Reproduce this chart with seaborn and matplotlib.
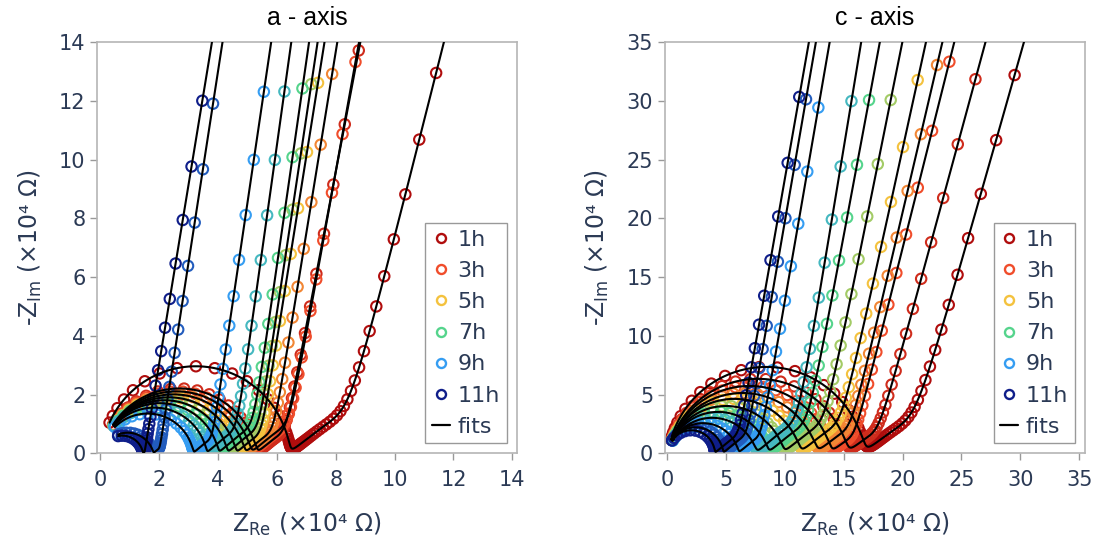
import numpy as np
import pandas as pd
import seaborn as sns
import matplotlib.pyplot as plt
from matplotlib.lines import Line2D

hours = [1, 2, 3, 4, 5, 6, 7, 8, 9, 10, 11]
legend_hours = [1, 3, 5, 7, 9, 11]

# a-axis (x 1e4 ohm)
a_arc_end = [6.4, 5.3, 5.1, 4.9, 4.6, 4.3, 4.0, 3.6, 3.15, 1.8, 1.45]
a_arc_peak = [2.95, 2.2, 2.1, 2.0, 1.9, 1.8, 1.7, 1.55, 1.35, 0.7, 0.6]
a_tail_x0 = [8.2, 6.2, 6.3, 5.8, 5.4, 5.3, 5.1, 4.55, 3.75, 2.0, 1.5]
a_tail_slope = [4.0, 5.3, 5.6, 6.2, 6.3, 6.7, 7.0, 7.2, 6.8, 6.5, 6.1]
a_last_y = [12.9, 13.7, 13.3, 12.9, 12.6, 12.55, 12.4, 12.3, 12.3, 11.9, 12.0]

# c-axis
c_arc_end = [16.6, 15.2, 13.8, 12.6, 11.2, 9.8, 8.5, 7.5, 6.0, 4.7, 4.0]
c_arc_peak = [7.3, 6.3, 5.7, 5.1, 4.6, 4.0, 3.5, 3.0, 2.55, 2.2, 1.95]
c_tail_x0 = [20.5, 17.6, 15.65, 15.26, 14.4, 13.0, 11.6, 10.76, 7.77, 6.6, 5.9]
c_tail_slope = [3.55, 3.7, 4.0, 4.3, 4.6, 5.0, 5.4, 6.1, 5.8, 5.8, 5.7]
c_last_y = [32.1, 31.8, 33.3, 33.0, 31.7, 30.0, 30.0, 29.9, 29.4, 30.1, 30.3]

W_MAX = 2 * np.pi * 1e5
W_MIN = 2 * np.pi * 1e-2
w_data = 2 * np.pi * np.logspace(5, -2, 71)
w_fit = 2 * np.pi * np.logspace(5, -5, 1500)


def circuit(end, peak, x0, slope, last, z_first, rs=0.05):
    # Rs + ZARC + bounded Warburg, from the shape
    rct = end - rs
    n = min(4 / np.pi * np.arctan(2 * peak / rct), 1.0)
    tau = (rct / z_first) ** (1 / n) / W_MAX
    a = np.arctan(slope) / np.pi
    rw = 3 * (x0 - end)
    tw = (rw * np.sin(a * np.pi) / last) ** (1 / (2 * a)) / W_MIN
    return rs, rct, n, tau, rw, tw, a


def impedance(w, rs, rct, n, tau, rw, tw, a):
    z_arc = rct / (1 + (1j * w * tau) ** n)
    u = (1j * w * tw) ** a
    e = np.exp(-2 * u)
    z_w = rw * (1 + e) / (1 - e) / u
    return rs + z_arc + z_w


panels = {
    "a - axis": (a_arc_end, a_arc_peak, a_tail_x0, a_tail_slope, a_last_y, 1.1),
    "c - axis": (c_arc_end, c_arc_peak, c_tail_x0, c_tail_slope, c_last_y, 1.2),
}

rows_pts, rows_fit = [], []
for name, (ends, peaks, x0s, slopes, lasts, zf) in panels.items():
    for i, h in enumerate(hours):
        p = circuit(ends[i], peaks[i], x0s[i], slopes[i], lasts[i], zf)
        z = impedance(w_data, *p)
        rows_pts.append(pd.DataFrame({"panel": name, "hour": h, "zre": z.real, "zim": -z.imag}))
        zf_ = impedance(w_fit, *p)
        rows_fit.append(pd.DataFrame({"panel": name, "hour": h, "zre": zf_.real, "zim": -zf_.imag}))
pts = pd.concat(rows_pts, ignore_index=True)
fits = pd.concat(rows_fit, ignore_index=True)

colors = sns.blend_palette(["#b00d0d", "#f04d2b", "#f4c23e", "#55d48c", "#359df2", "#0f1e8a"], 11)
txt = "#2b3a55"

sns.set_style("ticks")
plt.rcParams["font.family"] = ["DejaVu Sans"]

fig = plt.figure(figsize=(10.95, 5.41), dpi=100)
axes = [fig.add_axes([0.0889, 0.1621, 0.383, 0.7603]),
        fig.add_axes([0.6073, 0.1621, 0.3836, 0.7603])]
limits = {"a - axis": ((-0.1, 14.15), 14, 2), "c - axis": ((-0.2, 35.5), 35, 5)}

for ax, name in zip(axes, panels):
    d = pts[pts.panel == name]
    for h, c in zip(hours, colors):
        sns.scatterplot(data=d[d.hour == h], x="zre", y="zim", ax=ax, color=c,
                        marker="o", s=56, facecolors="none", edgecolor=c,
                        linewidth=1.5, legend=False, zorder=2)
    sns.lineplot(data=fits[fits.panel == name], x="zre", y="zim", units="hour",
                 estimator=None, sort=False, color="black", lw=1.5, ax=ax,
                 legend=False, zorder=3)
    xl, top, step = limits[name]
    ax.set_xlim(*xl)
    ax.set_ylim(0, top)
    ax.set_xticks(np.arange(0, top + 0.1, step))
    ax.set_yticks(np.arange(0, top + 0.1, step))
    ax.set_title(name, fontsize=18, family="Liberation Sans", color="black", pad=12)
    ax.set_xlabel("Z$_\\mathrm{Re}$ (×10⁴ Ω)", fontsize=17, color=txt, labelpad=15)
    ax.set_ylabel("-Z$_\\mathrm{Im}$ (×10⁴ Ω)", fontsize=17, color=txt, labelpad=11)
    ax.tick_params(direction="out", length=5, width=1, color="#999999",
                   labelsize=15, labelcolor=txt)
    ax.tick_params(axis="x", pad=7)
    for sp in ax.spines.values():
        sp.set_color("#b5b5b5")
        sp.set_linewidth(1.2)
    handles = [Line2D([], [], marker="o", ls="", mfc="none", mec=colors[h - 1],
                      ms=6.5, mew=1.7) for h in legend_hours]
    handles.append(Line2D([], [], color="black", lw=1.6))
    labels = [f"{h}h" for h in legend_hours] + ["fits"]
    ax.legend(handles, labels, loc="lower right", fontsize=16, labelcolor=txt,
              frameon=True, fancybox=False, edgecolor="#999999", framealpha=1,
              handlelength=0.8, handletextpad=0.35, labelspacing=0.5,
              borderpad=0.3, borderaxespad=0.45)

fig.savefig("out.png", dpi=100)
